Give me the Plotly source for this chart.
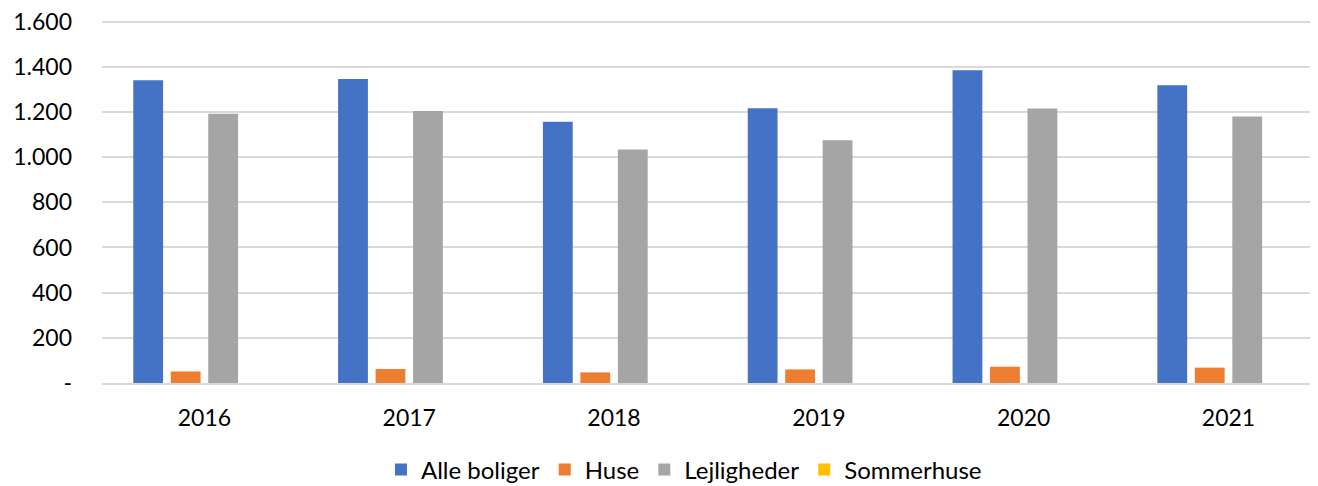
import plotly.graph_objects as go

years = ["2016", "2017", "2018", "2019", "2020", "2021"]
alle_boliger = [1340, 1346, 1156, 1216, 1384, 1318]
huse = [51, 62, 47, 60, 72, 68]
lejligheder = [1192, 1204, 1033, 1074, 1215, 1180]
sommerhuse = [0, 0, 0, 0, 0, 0]

y_ticks = [0, 200, 400, 600, 800, 1000, 1200, 1400, 1600]
y_ticktext = ["-", "200", "400", "600", "800", "1.000", "1.200", "1.400", "1.600"]

series = [
    ("Alle boliger", alle_boliger, "#4472C4"),
    ("Huse", huse, "#ED7D31"),
    ("Lejligheder", lejligheder, "#A5A5A5"),
    ("Sommerhuse", sommerhuse, "#FFC000"),
]

fig = go.Figure()
for name, vals, col in series:
    fig.add_trace(go.Bar(x=years, y=vals, name=name, marker=dict(color=col, line=dict(width=0))))

font = "Lato, Carlito, Calibri, sans-serif"
fig.update_layout(
    width=1310, height=478,
    margin=dict(l=94, r=0, t=9, b=103, pad=0),
    paper_bgcolor="white", plot_bgcolor="white",
    barmode="group", bargap=0.268, bargroupgap=0.205,
    font=dict(family=font, size=23, color="#000000"),
    showlegend=True,
    legend=dict(orientation="h", x=0.516, xanchor="center", xref="container",
                y=0.0335, yanchor="middle", yref="container",
                font=dict(size=24), itemwidth=30, tracegroupgap=0),
)
fig.update_xaxes(range=[-0.5, 5.437], showgrid=False, showline=True,
                 linecolor="#D9D9D9", linewidth=1.5, ticks="", ticklabelstandoff=14,
                 tickfont=dict(size=23))
fig.update_yaxes(range=[0, 1620], tickvals=y_ticks, ticktext=y_ticktext,
                 showgrid=True, gridcolor="#D9D9D9", gridwidth=1.5,
                 zeroline=False, showline=False, ticks="", ticklabelstandoff=29,
                 ticklabeloverflow="allow", tickfont=dict(size=23))

fig.write_html("out.html")
